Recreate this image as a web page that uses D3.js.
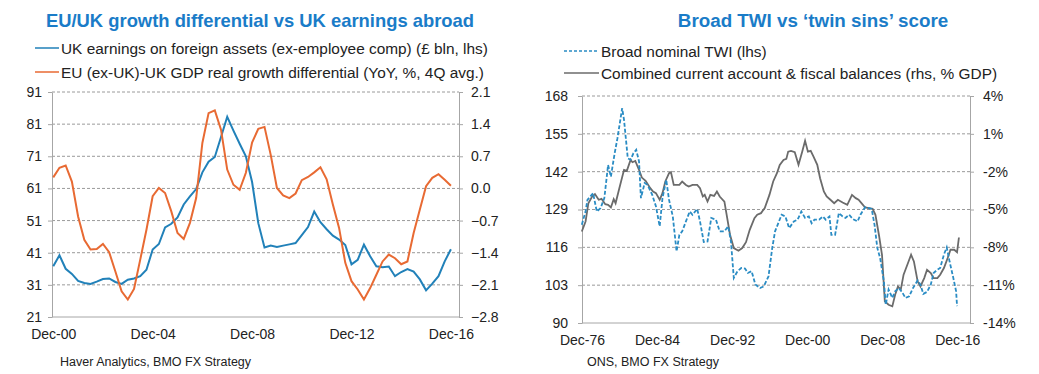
<!DOCTYPE html>
<html>
<head>
<meta charset="utf-8">
<script src="https://cdn.jsdelivr.net/npm/d3@7/dist/d3.min.js"></script>
<style>
  body { margin: 0; background: #fff; }
  svg { font-family: "Liberation Sans", Arial, sans-serif; }
  .grid line { stroke: #9a9a9a; stroke-dasharray: 3,2; }
  .axis path, .axis line { stroke: #a6a6a6; }
  .axis text { fill: #222; font-size: 14px; }
</style>
</head>
<body>
<div id="chart"></div>
<script>
// ---- left chart: quarterly, Dec-00 .. Dec-16
const leftTicks = ["Dec-00", "Dec-04", "Dec-08", "Dec-12", "Dec-16"];
const earnings = [36.8, 40.2, 36, 34.4, 32.2, 31.6, 31.3, 32, 32.8, 33, 31.9, 31.3, 32.6, 33, 33.7, 35.7,
  42, 43.7, 48.9, 50, 52, 56, 58.5, 60.8, 66, 69.3, 70.8, 77, 83.3, 79, 74.9, 71,
  63, 50.2, 42.6, 43.2, 42.8, 43.2, 43.6, 44, 46.5, 49, 53.8, 50.5, 48.3, 46.3, 45.1, 43.4,
  37.4, 38.8, 43.5, 39.9, 36.8, 36.5, 36.7, 33.7, 35, 35.9, 35.1, 32.7, 29.3, 31.4, 33.7, 38.3, 42.1];
const growthDiff = [0.24, 0.45, 0.5, 0.15, -0.61, -1.12, -1.33, -1.32, -1.21, -1.39, -1.81, -2.24, -2.42, -2.19, -1.55, -0.9,
  -0.17, 0.01, -0.1, -0.5, -0.97, -1.1, -0.75, -0.21, 0.99, 1.64, 1.7, 1.28, 0.41, 0.08, -0.03, 0.34,
  1.0, 1.3, 1.34, 0.73, 0.01, -0.15, -0.21, -0.11, 0.18, 0.25, 0.35, 0.46, 0.2, -0.35, -0.86, -1.62,
  -2.02, -2.2, -2.42, -2.17, -1.88, -1.59, -1.44, -1.52, -1.65, -1.59, -0.97, -0.46, 0.05, 0.23, 0.31, 0.19, 0.06];
const leftLhsTicks = [21, 31, 41, 51, 61, 71, 81, 91];
const leftRhsTicks = [-2.8, -2.1, -1.4, -0.7, 0.0, 0.7, 1.4, 2.1];

// ---- right chart: dates as decimal years
const rightTicks = ["Dec-76", "Dec-84", "Dec-92", "Dec-00", "Dec-08", "Dec-16"];
const twiYears = [1976.9, 1977.3, 1977.5, 1978.1, 1978.5, 1978.9, 1979.3, 1979.7, 1980.0, 1980.4, 1980.7, 1981.2, 1981.4, 1981.8,
  1982.1, 1982.4, 1982.7, 1983.0, 1983.2, 1983.6, 1983.9, 1984.4, 1984.8, 1985.2, 1985.5, 1985.9, 1986.2, 1986.6, 1987.0,
  1987.3, 1987.6, 1988.0, 1988.4, 1988.7, 1989.2, 1989.5, 1989.9, 1990.3, 1990.7, 1991.2, 1991.6, 1992.1, 1992.5, 1992.8,
  1993.1, 1993.5, 1993.9, 1994.3, 1994.6, 1995.0, 1995.4, 1995.9, 1996.3, 1996.8, 1997.2, 1997.5, 1998.2, 1998.6, 1999.0,
  1999.5, 1999.9, 2000.3, 2000.7, 2001.1, 2001.4, 2001.7, 2002.2, 2002.6, 2002.9, 2003.3, 2003.5, 2003.9, 2004.3, 2004.7,
  2005.0, 2005.4, 2005.8, 2006.3, 2006.6, 2007.1, 2007.5, 2007.8, 2008.1, 2008.4, 2008.7, 2009.1, 2009.3, 2009.6, 2010.0,
  2010.3, 2010.7, 2011.1, 2011.4, 2011.8, 2012.2, 2012.7, 2013.0, 2013.3, 2013.7, 2014.1, 2014.4, 2014.8, 2015.1, 2015.5,
  2015.8, 2016.1, 2016.5, 2016.8, 2016.9];
const twiValues = [123.8, 128.3, 132.3, 134.6, 128.3, 129.5, 132.9, 144.3, 140.3, 148.3, 153.5, 163.8, 159.8, 146.6,
  146.1, 148.3, 149.5, 145.5, 132.9, 138.1, 137.5, 134.1, 130.1, 123.2, 132.9, 139.2, 132.3, 126.6, 114.6,
  120.3, 121.5, 124.9, 128.3, 127.2, 129.2, 124.9, 117.8, 118.0, 126.1, 125.5, 121.5, 121.5, 123.2, 118.0,
  105.5, 107.8, 108.9, 108.7, 107.2, 107.8, 103.2, 102.0, 102.6, 106.0, 115.8, 121.5, 127.2, 126.6, 122.6,
  124.9, 125.5, 128.3, 126.1, 126.6, 124.3, 125.5, 125.5, 126.6, 125.5, 126.6, 120.3, 120.3, 127.8, 126.6,
  126.1, 127.2, 125.7, 124.9, 127.2, 129.8, 129.5, 129.2, 123.8, 115.8, 112.3, 104.3, 96.3, 101.5, 98.6,
  100.9, 102.0, 100.3, 98.6, 99.2, 102.0, 104.6, 103.2, 100.0, 100.7, 103.2, 107.2, 108.3, 108.9, 113.5,
  116.0, 111.2, 105.5, 100.9, 95.8];
const balYears = [1976.9, 1977.3, 1977.6, 1978.0, 1978.3, 1978.7, 1979.0, 1979.4, 1979.7, 1980.0, 1980.3, 1980.5, 1980.9,
  1981.4, 1981.7, 1982.1, 1982.3, 1982.6, 1983.0, 1983.3, 1983.7, 1984.2, 1984.5, 1984.8, 1985.2, 1985.5, 1985.8, 1986.2,
  1986.4, 1986.7, 1987.3, 1987.6, 1988.0, 1988.3, 1988.7, 1989.2, 1989.5, 1989.8, 1990.0, 1990.3, 1990.6, 1991.0, 1991.3,
  1991.6, 1992.1, 1992.4, 1992.7, 1993.1, 1993.6, 1994.0, 1994.4, 1994.8, 1995.3, 1995.6, 1996.0, 1996.4, 1996.9, 1997.3,
  1997.7, 1998.0, 1998.4, 1998.7, 1998.9, 1999.2, 1999.6, 2000.0, 2000.4, 2000.7, 2001.0, 2001.3, 2001.6, 2002.0, 2002.3,
  2002.7, 2003.0, 2003.4, 2003.8, 2004.2, 2004.7, 2005.2, 2005.7, 2006.1, 2006.4, 2006.8, 2007.1, 2007.5, 2007.9, 2008.2,
  2008.6, 2008.9, 2009.2, 2009.6, 2010.0, 2010.3, 2010.6, 2010.9, 2011.2, 2011.6, 2012.0, 2012.3, 2012.7, 2013.0, 2013.4,
  2013.7, 2014.1, 2014.4, 2014.8, 2015.1, 2015.5, 2015.9, 2016.2, 2016.6, 2016.9, 2017.1];
const balValues = [-6.74, -5.95, -4.5, -3.97, -3.78, -4.23, -4.15, -4.58, -4.63, -4.84, -4.18, -4.5, -3.31,
  -1.86, -1.94, -1.07, -1.25, -1.15, -1.86, -2.47, -2.73, -3.31, -3.57, -3.7, -4.23, -3.7, -2.78, -2.12,
  -2.04, -3.05, -3.05, -2.78, -3.05, -3.18, -3.05, -3.05, -3.31, -3.97, -3.84, -4.37, -3.84, -3.92, -3.57,
  -3.97, -4.37, -5.69, -7.0, -8.06, -8.27, -8.06, -7.59, -6.61, -5.69, -5.42, -5.29, -4.89, -3.84, -2.78,
  -2.12, -1.46, -1.07, -0.99, -0.41, -0.35, -0.46, -1.46, -0.41, 0.44, -0.41, -0.35, -0.8, -1.46, -2.52,
  -3.57, -3.97, -4.23, -4.5, -4.23, -4.44, -4.63, -3.84, -4.1, -4.23, -4.58, -4.84, -4.89, -4.95, -5.42,
  -7.14, -8.59, -12.28, -12.55, -12.68, -11.76, -11.1, -11.36, -10.17, -9.38, -8.59, -9.12, -10.7, -11.1, -10.44,
  -9.78, -10.04, -10.44, -10.44, -10.17, -9.64, -8.85, -8.19, -8.19, -8.38, -7.22];
const rightLhsTicks = [90, 103, 116, 129, 142, 155, 168];
const rightRhsTicks = [-14, -11, -8, -5, -2, 1, 4];

const titleBlue = "#1a7cc8";
const svg = d3.select("#chart").append("svg").attr("width", 1039).attr("height", 374);

function drawGrid(g, x0, x1, yScale, ticks) {
  g.append("g").attr("class", "grid")
    .selectAll("line").data(ticks.slice(1)).join("line")
    .attr("x1", x0).attr("x2", x1)
    .attr("y1", d => yScale(d)).attr("y2", d => yScale(d));
}

function legendRow(g, x, y, len, color, dash, label) {
  g.append("line").attr("x1", x).attr("x2", x + len).attr("y1", y).attr("y2", y)
    .attr("stroke", color).attr("stroke-width", 1.5).attr("stroke-dasharray", dash);
  g.append("text").attr("x", x + len + 2).attr("y", y + 5.5).attr("font-size", 15.4).attr("fill", "#222").text(label);
}

// ================= LEFT CHART
{
  const g = svg.append("g");
  const L = 52, R = 459, T = 92, B = 317;
  const x = d3.scaleLinear().domain([-0.2, 65.3]).range([L, R]);
  const y = d3.scaleLinear().domain([21, 91]).range([B, T]);
  const y2 = d3.scaleLinear().domain([-2.8, 2.1]).range([B, T]);

  g.append("text").attr("x", 260).attr("y", 27).attr("text-anchor", "middle")
    .attr("font-size", 18.4).attr("font-weight", "bold").attr("fill", titleBlue)
    .text("EU/UK growth differential vs UK earnings abroad");
  legendRow(g, 35, 48, 24, "#2181b9", null, "UK earnings on foreign assets (ex-employee comp) (£ bln, lhs)");
  legendRow(g, 35, 72, 24, "#e86a33", null, "EU (ex-UK)-UK GDP real growth differential (YoY, %, 4Q avg.)");

  drawGrid(g, L, R, y, leftLhsTicks);

  g.append("g").attr("class", "axis").attr("transform", `translate(${L},0)`)
    .call(d3.axisLeft(y).tickValues(leftLhsTicks).tickSize(4).tickPadding(6).tickSizeOuter(0));
  g.append("g").attr("class", "axis").attr("transform", `translate(${R},0)`)
    .call(d3.axisRight(y2).tickValues(leftRhsTicks).tickSize(4).tickPadding(8).tickSizeOuter(0).tickFormat(d3.format(".1f")));
  const xa = g.append("g").attr("class", "axis").attr("transform", `translate(0,${B})`)
    .call(d3.axisBottom(x).tickValues([0, 16, 32, 48, 64]).tickSize(0).tickPadding(12).tickSizeOuter(0)
      .tickFormat((d, i) => leftTicks[i]));
  xa.select(".domain").attr("d", `M${L},0H${R}`);

  g.append("path").datum(earnings)
    .attr("fill", "none").attr("stroke", "#2181b9").attr("stroke-width", 2)
    .attr("d", d3.line().x((d, i) => x(i)).y(d => y(d)));
  g.append("path").datum(growthDiff)
    .attr("fill", "none").attr("stroke", "#e86a33").attr("stroke-width", 2)
    .attr("d", d3.line().x((d, i) => x(i)).y(d => y2(d)));

  g.append("text").attr("x", 60).attr("y", 366).attr("font-size", 12.5).attr("fill", "#222")
    .text("Haver Analytics, BMO FX Strategy");
}

// ================= RIGHT CHART
{
  const g = svg.append("g");
  const L = 582, R = 970, T = 96, B = 323;
  const x = d3.scaleLinear().domain([1976.92, 2018.28]).range([L, R]);
  const y = d3.scaleLinear().domain([90, 168]).range([B, T]);
  const y2 = d3.scaleLinear().domain([-14, 4]).range([B, T]);

  g.append("text").attr("x", 813).attr("y", 27).attr("text-anchor", "middle")
    .attr("font-size", 18.8).attr("font-weight", "bold").attr("fill", titleBlue)
    .text("Broad TWI vs \u2018twin sins\u2019 score");
  legendRow(g, 564, 51, 35, "#2a8cc4", "3,2", "Broad nominal TWI (lhs)");
  legendRow(g, 564, 73, 35, "#6b6b6b", null, "Combined current account & fiscal balances (rhs, % GDP)");

  drawGrid(g, L, R, y, rightLhsTicks);

  g.append("g").attr("class", "axis").attr("transform", `translate(${L},0)`)
    .call(d3.axisLeft(y).tickValues(rightLhsTicks).tickSize(4).tickPadding(10).tickSizeOuter(0));
  g.append("g").attr("class", "axis").attr("transform", `translate(${R},0)`)
    .call(d3.axisRight(y2).tickValues(rightRhsTicks).tickSize(4).tickPadding(9).tickSizeOuter(0).tickFormat(d => d + "%"));
  const xa = g.append("g").attr("class", "axis").attr("transform", `translate(0,${B})`)
    .call(d3.axisBottom(x).tickValues(rightTicks.map((t, i) => 1976.92 + 8 * i)).tickSize(0).tickPadding(12).tickSizeOuter(0)
      .tickFormat((d, i) => rightTicks[i]));
  xa.select(".domain").attr("d", `M${L},0H${R}`);

  g.append("path").datum(d3.zip(balYears, balValues))
    .attr("fill", "none").attr("stroke", "#6b6b6b").attr("stroke-width", 1.8)
    .attr("d", d3.line().x(d => x(d[0])).y(d => y2(d[1])));
  g.append("path").datum(d3.zip(twiYears, twiValues))
    .attr("fill", "none").attr("stroke", "#2a8cc4").attr("stroke-width", 1.8).attr("stroke-dasharray", "4,2")
    .attr("d", d3.line().x(d => x(d[0])).y(d => y(d[1])));

  g.append("text").attr("x", 587).attr("y", 366).attr("font-size", 12.5).attr("fill", "#222")
    .text("ONS, BMO FX Strategy");
}
</script>
</body>
</html>
